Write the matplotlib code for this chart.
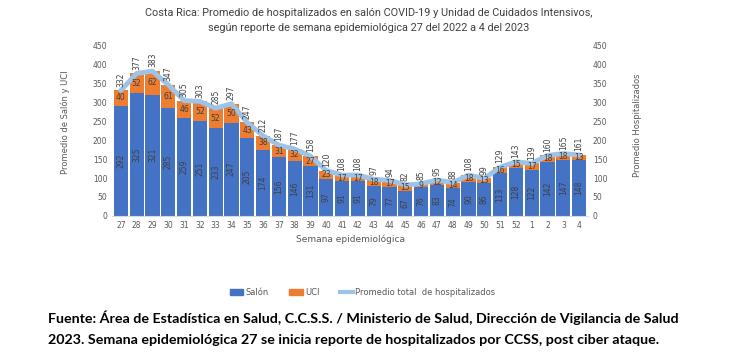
import numpy as np
import matplotlib
matplotlib.use("Agg")
import matplotlib.pyplot as plt
from matplotlib.lines import Line2D
from matplotlib.patches import Patch

semanas = ["27", "28", "29", "30", "31", "32", "33", "34", "35", "36", "37", "38", "39", "40",
           "41", "42", "43", "44", "45", "46", "47", "48", "49", "50", "51", "52", "1", "2", "3", "4"]
salon = [292, 325, 321, 285, 259, 251, 233, 247, 205, 174, 156, 146, 131, 97,
         91, 91, 79, 77, 67, 76, 83, 74, 90, 86, 113, 128, 122, 142, 147, 148]
uci = [40, 52, 62, 61, 46, 52, 52, 50, 43, 38, 31, 32, 27, 23,
       17, 17, 18, 17, 15, 9, 12, 14, 18, 13, 16, 15, 17, 18, 18, 13]
total = [332, 377, 383, 347, 305, 303, 285, 297, 247, 212, 187, 177, 158, 120,
         108, 108, 97, 94, 82, 85, 95, 88, 108, 99, 129, 143, 139, 160, 165, 161]

azul = "#4472C4"
naranja = "#ED7D31"
celeste = "#9DC3E6"
gris = "#595959"

fig = plt.figure(figsize=(7.33, 3.61), dpi=100)
ax = fig.add_axes([0.153, 0.402, 0.649, 0.471])
ax2 = ax.twinx()
ax.set_zorder(ax2.get_zorder() + 1)
ax.patch.set_visible(False)
x = np.arange(len(semanas))

ax.bar(x, salon, width=0.9, color=azul, zorder=2)
ax.bar(x, uci, width=0.9, bottom=salon, color=naranja, zorder=2)
ax.plot(x, total, color=celeste, lw=3.5, zorder=3, solid_capstyle="round", solid_joinstyle="round")

for i in range(len(x)):
    ax.text(x[i], salon[i] / 2, str(salon[i]), rotation=90, ha="center", va="center",
            fontsize=5.5, color="#404040", zorder=4)
    ax.text(x[i], salon[i] + uci[i] / 2, str(uci[i]), ha="center", va="center",
            fontsize=5.5, color="#404040", zorder=4)
    ax.text(x[i], total[i] + 10, str(total[i]), rotation=90, ha="center", va="bottom",
            fontsize=5.5, color="#404040", zorder=4)

for a in (ax, ax2):
    a.set_ylim(0, 450)
    a.set_yticks(range(0, 451, 50))
    a.tick_params(length=0, labelsize=5.5, labelcolor=gris)
    for s in a.spines.values():
        s.set_visible(False)
ax.spines["bottom"].set_visible(True)
ax.spines["bottom"].set_color("#D9D9D9")
ax.set_xlim(-0.55, len(x) - 0.45)
ax.set_xticks(x)
ax.set_xticklabels(semanas)
ax.tick_params(axis="x", pad=4)

ax.set_xlabel("Semana epidemiológica", fontsize=6.5, color=gris, labelpad=3)
fig.text(0.089, 0.662, "Promedio de Salón y UCI", rotation=90, ha="center", va="center",
         fontsize=6, color=gris)
fig.text(0.870, 0.654, "Promedio Hospitalizados", rotation=90, ha="center", va="center",
         fontsize=6, color=gris)

titulo = ["Liberation Sans Narrow", "Roboto", "DejaVu Sans"]
fig.text(0.503, 0.963, "Costa Rica: Promedio de hospitalizados en salón COVID-19 y Unidad de Cuidados Intensivos,",
         ha="center", va="center", fontsize=7.8, color="#404040", family=titulo)
fig.text(0.503, 0.922, "según reporte de semana epidemiológica 27 del 2022 a 4 del 2023",
         ha="center", va="center", fontsize=7.8, color="#404040", family=titulo)

handles = [Patch(color=azul), Patch(color=naranja), Line2D([0], [0], color=celeste, lw=3)]
fig.legend(handles, ["Salón", "UCI", "Promedio total  de hospitalizados"],
           loc="center", bbox_to_anchor=(0.495, 0.19), ncol=3, frameon=False,
           fontsize=6, labelcolor=gris, handlelength=1.6, handleheight=0.6,
           columnspacing=2.4, handletextpad=0.3)

pie = ["Lato", "DejaVu Sans"]
fig.text(0.066, 0.12, "Fuente: Área de Estadística en Salud, C.C.S.S. / Ministerio de Salud, Dirección de Vigilancia de Salud",
         ha="left", va="center", fontsize=10.3, fontweight="bold", family=pie)
fig.text(0.066, 0.058, "2023. Semana epidemiológica 27 se inicia reporte de hospitalizados por CCSS, post ciber ataque.",
         ha="left", va="center", fontsize=10.3, fontweight="bold", family=pie)

fig.savefig("out.png", dpi=100)
